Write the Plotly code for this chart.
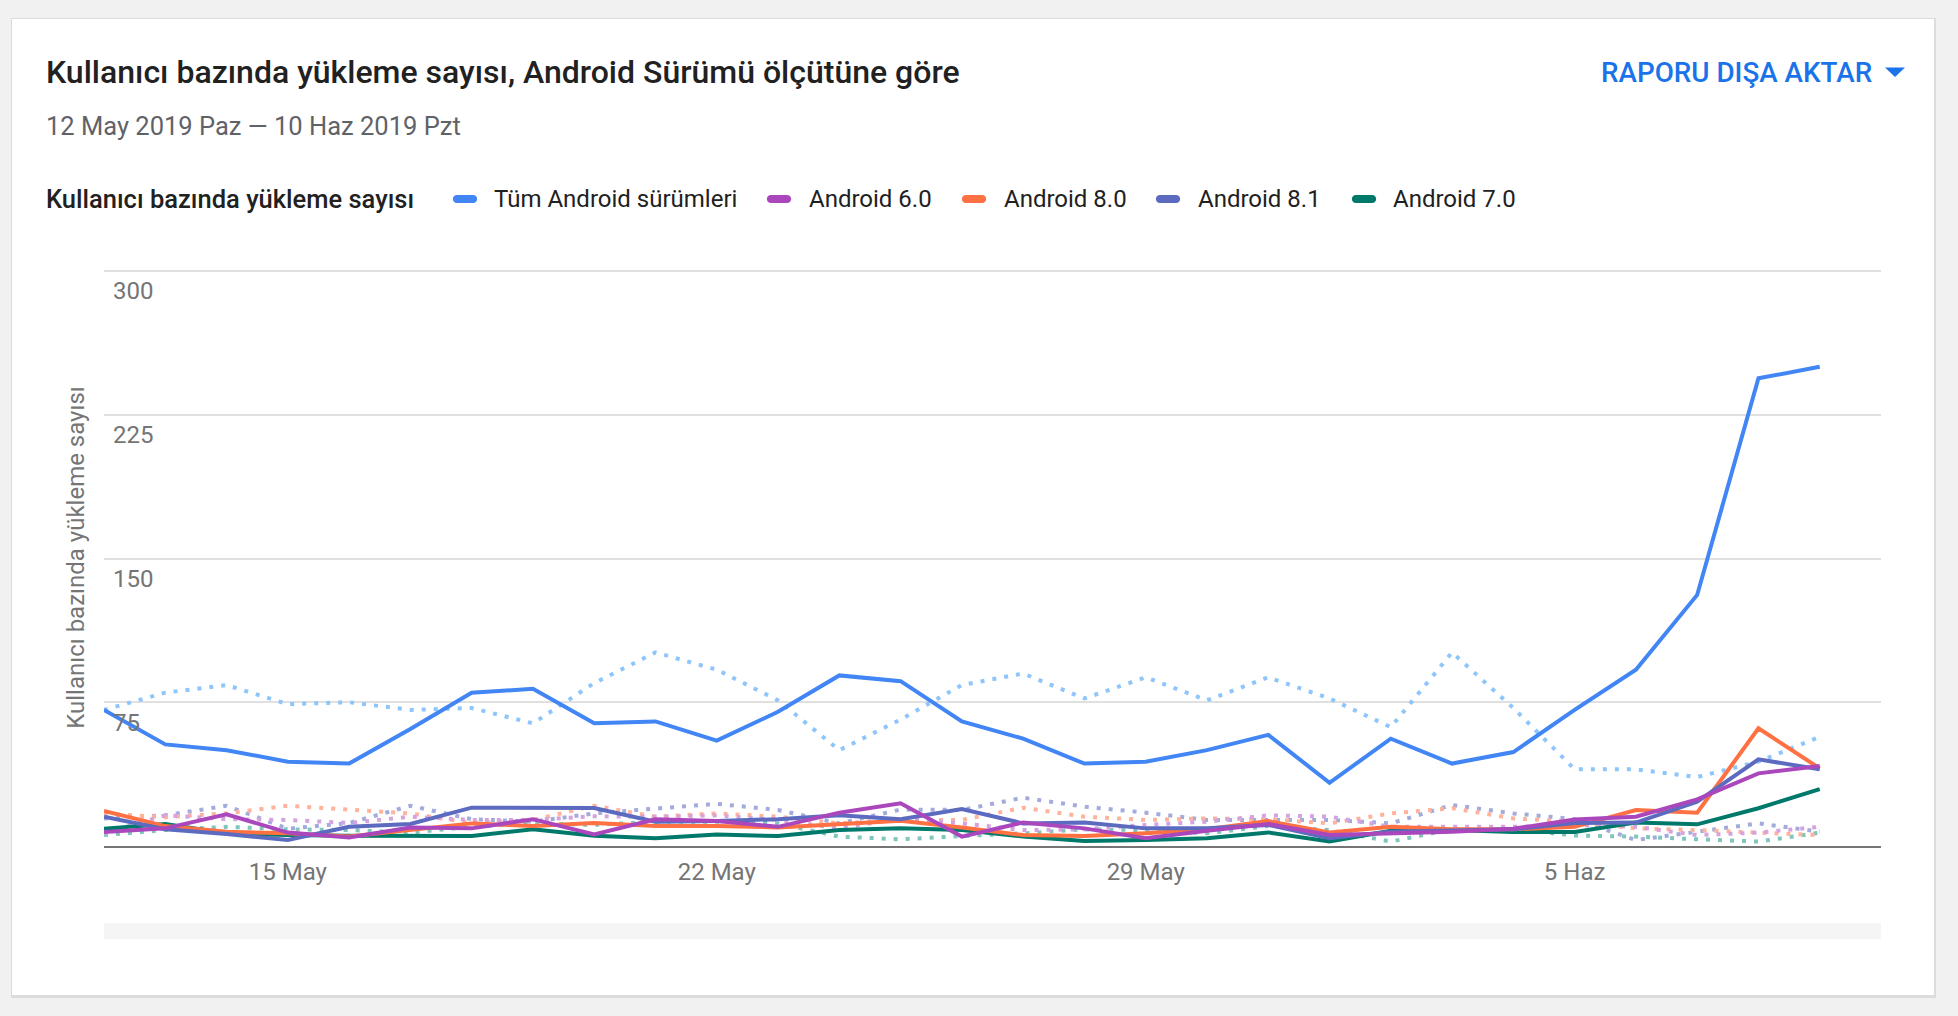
import plotly.graph_objects as go
import pandas as pd

# --- data (12 May 2019 - 9 Jun 2019) ---
dates = pd.date_range("2019-05-12", "2019-06-09", freq="D")

tum_android = [71, 53, 50, 44, 43, 61, 80, 82, 64, 65, 55, 70, 89, 86, 65, 56, 43, 44,
               50, 58, 33, 56, 43, 49, 71, 92, 131, 244, 250]
tum_android_prev = [71, 80, 84, 74, 75, 71, 72, 64, 85, 101, 92, 76, 50, 66, 84, 90, 77, 88,
                    76, 88, 77, 62, 101, 72, 40, 40, 36, 44, 57]

android_60 = [7.3, 9.2, 16.5, 7, 4.5, 9.7, 9.2, 14, 6, 13.9, 13, 10, 17.4, 22.3, 4.9, 12.3,
              9.2, 4, 8, 11.5, 5.7, 6.6, 7.5, 9, 13.8, 15.3, 24.3, 37.9, 41.7]
android_60_prev = [6.6, 16, 14, 13.6, 12, 15.3, 13.6, 13.6, 15.5, 15.3, 16, 13.6, 9.2, 14.4,
                   11.8, 8.3, 8.7, 11, 12.7, 16, 15.3, 10, 10, 10, 11, 10, 5.7, 7, 10]

android_80 = [18.3, 10.4, 7.5, 6.6, 4.9, 8.3, 11.8, 10.4, 12, 10.4, 10.4, 9.7, 11.3, 13.2,
              9.7, 5.7, 5.2, 6.6, 8.7, 13, 7, 10, 8.7, 8.7, 10, 18.8, 17.4, 61.4, 40.5]
android_80_prev = [17, 15, 17, 21, 19, 17, 12, 13.6, 21, 15.3, 17, 15.3, 11.8, 13.6, 13.6, 20,
                   15.3, 13.6, 14.4, 14, 11.8, 17, 19.7, 14.4, 12.7, 9.2, 8.3, 7, 5.7]

android_81 = [15.3, 8.7, 6.3, 3.1, 10, 11.5, 20, 20, 19.8, 12.7, 13, 14, 16, 14, 19.3, 11.8,
              12.2, 9.2, 9.2, 11, 4, 7.5, 8.3, 8.7, 12, 12.2, 23.1, 45.2, 40]
android_81_prev = [14.4, 16, 21, 9, 12, 21, 14, 12.7, 17, 19.7, 22, 18.8, 11.8, 19, 18.8, 25.2,
                   20.5, 17.4, 13.6, 13.6, 13.6, 11.8, 21.4, 17, 14, 3.1, 7.5, 11.8, 7.5]

android_70 = [9, 11.5, 6.6, 5.7, 5.4, 5.2, 5.2, 8.7, 5.3, 4, 6, 5.2, 8.3, 9.2, 8.3, 4.9,
              2.6, 3.1, 4, 7.1, 2.3, 8, 8.3, 7.3, 7.3, 12.2, 11.3, 19.7, 29.7]
android_70_prev = [5.7, 8.3, 10, 8.7, 8.3, 7, 10, 11.8, 11, 12.7, 12.7, 11.8, 4.9, 3.5, 5.2,
                   6.6, 8.7, 8.3, 6.6, 10.4, 8.3, 2.3, 8.7, 8.7, 5.5, 4.9, 3.5, 2.3, 7]

series_names = ["Tüm Android sürümleri", "Android 6.0", "Android 8.0", "Android 8.1", "Android 7.0"]
x_tick_vals = ["2019-05-15", "2019-05-22", "2019-05-29", "2019-06-05"]
x_tick_text = ["15 May", "22 May", "29 May", "5 Haz"]
y_tick_vals = [75, 150, 225, 300]

# --- styling ---
FONT = "Roboto"
colors = {"Tüm Android sürümleri": "#4285f4", "Android 6.0": "#ab47bc", "Android 8.0": "#ff7043",
          "Android 8.1": "#5c6bc0", "Android 7.0": "#00796b"}
light = {"Tüm Android sürümleri": "#8ec5fb", "Android 6.0": "#d5a3de", "Android 8.0": "#ffb39c",
         "Android 8.1": "#a3abdc", "Android 7.0": "#80c6bd"}

current = {"Tüm Android sürümleri": tum_android, "Android 6.0": android_60,
           "Android 8.0": android_80, "Android 8.1": android_81, "Android 7.0": android_70}
previous = {"Tüm Android sürümleri": tum_android_prev, "Android 6.0": android_60_prev,
            "Android 8.0": android_80_prev, "Android 8.1": android_81_prev,
            "Android 7.0": android_70_prev}

W, H = 1958, 1016
L, R, T, B = 104, 77, 269, 170
PW, PH = W - L - R, H - T - B
PX_PER_UNIT = 575 / 300  # 0 -> 300 spans 575px in the reference
y_top = PH / PX_PER_UNIT  # a hair above 300 so the top grid line is drawn


def px_x(p):
    return (p - L) / PW


def px_y(p):
    return (H - B - p) / PH


fig = go.Figure()

# previous period, dotted, drawn first
for name in ["Android 7.0", "Android 8.1", "Android 8.0", "Android 6.0", "Tüm Android sürümleri"]:
    fig.add_trace(go.Scatter(
        x=dates, y=previous[name], mode="lines", name=name + " (önceki)",
        line=dict(color=light[name], width=4, dash="4px,8px"),
        showlegend=False, hoverinfo="skip",
    ))

for name in ["Android 7.0", "Android 8.0", "Android 8.1", "Android 6.0", "Tüm Android sürümleri"]:
    fig.add_trace(go.Scatter(
        x=dates, y=current[name], mode="lines", name=name,
        line=dict(color=colors[name], width=4),
        showlegend=False,
    ))

shapes = [
    # card shadow + card
    dict(type="rect", xref="paper", yref="paper", layer="below",
         x0=px_x(11), x1=px_x(1936), y0=px_y(18), y1=px_y(998),
         fillcolor="#dcdcdc", line=dict(width=0)),
    dict(type="rect", xref="paper", yref="paper", layer="below",
         x0=px_x(12), x1=px_x(1934), y0=px_y(19), y1=px_y(995),
         fillcolor="#ffffff", line=dict(width=0)),
    # grey strip under the chart
    dict(type="rect", xref="paper", yref="paper", layer="below",
         x0=0, x1=1, y0=px_y(939), y1=px_y(923),
         fillcolor="#f5f5f5", line=dict(width=0)),
    # export dropdown triangle
    dict(type="path", xref="paper", yref="paper",
         path="M {a},{b} L {c},{b} L {d},{e} Z".format(
             a=px_x(1885), c=px_x(1905), d=px_x(1895), b=px_y(67.5), e=px_y(77)),
         fillcolor="#1a73e8", line=dict(width=0)),
]

annotations = [
    dict(text="Kullanıcı bazında yükleme sayısı, Android Sürümü ölçütüne göre",
         x=px_x(44), y=px_y(72), font=dict(family=FONT, size=32, color="#212121", weight=500)),
    dict(text="12 May 2019 Paz — 10 Haz 2019 Pzt",
         x=px_x(44), y=px_y(126), font=dict(family=FONT, size=25.5, color="#5f6368")),
    dict(text="Kullanıcı bazında yükleme sayısı",
         x=px_x(44), y=px_y(199), font=dict(family=FONT, size=25.5, color="#212121", weight=500)),
    dict(text="RAPORU DIŞA AKTAR", x=px_x(1874), y=px_y(72), xanchor="right",
         font=dict(family=FONT, size=27.8, color="#1a73e8", weight=500)),
]
for a in annotations:
    a.update(xref="paper", yref="paper", showarrow=False, yanchor="middle")
    a.setdefault("xanchor", "left")

# legend: pill + label
pill_x = [465, 779, 974, 1168, 1364]
label_x = [492, 807, 1002, 1196, 1391]
pill = "M -8,-4 L 8,-4 C 13.5,-4 13.5,4 8,4 L -8,4 C -13.5,4 -13.5,-4 -8,-4 Z"
for name, px_, lx in zip(series_names, pill_x, label_x):
    shapes.append(dict(type="path", xref="paper", yref="paper",
                       xsizemode="pixel", ysizemode="pixel",
                       xanchor=px_x(px_), yanchor=px_y(199), path=pill,
                       fillcolor=colors[name], line=dict(width=0)))
    annotations.append(dict(text=name, x=px_x(lx), y=px_y(199), xref="paper", yref="paper",
                            xanchor="left", yanchor="middle", showarrow=False,
                            font=dict(family=FONT, size=24, color="#212121")))

fig.update_layout(
    width=W, height=H,
    margin=dict(l=L, r=R, t=T, b=B),
    paper_bgcolor="#f1f1f1",
    plot_bgcolor="rgba(0,0,0,0)",
    font=dict(family=FONT, color="#757575"),
    shapes=shapes,
    annotations=annotations,
    showlegend=False,
    hovermode="x",
)

fig.update_xaxes(
    range=["2019-05-12", "2019-06-10"],
    tickvals=x_tick_vals, ticktext=x_tick_text,
    tickfont=dict(family=FONT, size=24, color="#757575"),
    showgrid=False, zeroline=False,
    showline=True, linecolor="#757575", linewidth=2,
    ticks="", ticklabelstandoff=3,
)

fig.update_yaxes(
    range=[0, y_top],
    tickvals=y_tick_vals,
    tickfont=dict(family=FONT, size=24, color="#757575"),
    ticklabelposition="inside", ticklabelshift=20, ticklabelstandoff=6,
    ticklabeloverflow="allow",
    showgrid=True, gridcolor="#e0e0e0", gridwidth=2,
    zeroline=False, showline=False, ticks="",
    title=dict(text="Kullanıcı bazında yükleme sayısı", standoff=21,
               font=dict(family=FONT, size=24, color="#757575")),
)

# page body margin would push the figure 8px off the window corner
fig.write_html("out.html", config={"displayModeBar": False},
               post_script="document.body.style.margin='0';"
                           "document.body.style.background='#f1f1f1';")
